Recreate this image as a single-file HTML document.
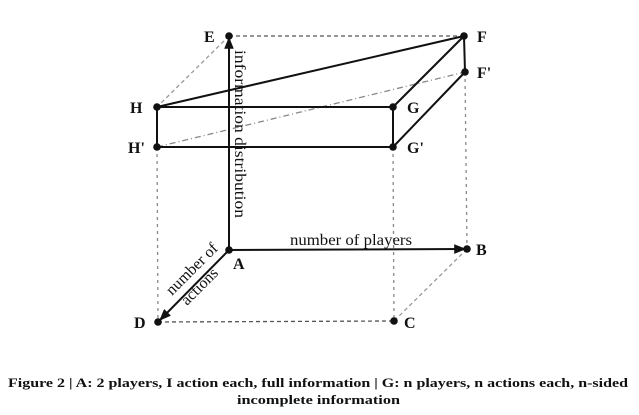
<!DOCTYPE html>
<html><head><style>
body{margin:0;background:#fff;width:639px;height:415px;overflow:hidden}
svg{position:absolute;left:0;top:0}
text{font-family:"Liberation Serif",serif;fill:#111}
</style></head><body>
<svg width="639" height="415" viewBox="0 0 639 415">
<defs><marker id="ar" viewBox="0 0 10 10" refX="9" refY="5" markerWidth="6" markerHeight="6" orient="auto"><path d="M0,1 L10,5 L0,9 z" fill="#111"/></marker></defs>
<g stroke="#555" stroke-width="1.3" fill="none">
<line x1="229" y1="36" x2="464" y2="36" stroke-dasharray="4,3"/>
<line x1="229" y1="36" x2="157" y2="107" stroke-dasharray="4,3" stroke="#999"/>
<line x1="157" y1="147" x2="158" y2="322" stroke-dasharray="3,4" stroke="#888"/>
<line x1="393" y1="147" x2="394" y2="321" stroke-dasharray="3,4" stroke="#888"/>
<line x1="465" y1="72" x2="467" y2="249" stroke-dasharray="3,4" stroke="#888"/>
<line x1="158" y1="322" x2="394" y2="321" stroke-dasharray="4,3"/>
<line x1="467" y1="249" x2="394" y2="321" stroke-dasharray="4,3" stroke="#999"/>
<line x1="157" y1="147" x2="465" y2="72" stroke-dasharray="6,3,1,3" stroke="#888"/>
</g>
<g stroke="#111" stroke-width="2" fill="none">
<line x1="157" y1="107" x2="464" y2="36"/>
<line x1="393" y1="107" x2="464" y2="36"/>
<line x1="393" y1="147" x2="465" y2="72"/>
<line x1="464" y1="36" x2="465" y2="72"/>
<line x1="157" y1="107" x2="393" y2="107"/>
<line x1="157" y1="147" x2="393" y2="147"/>
<line x1="157" y1="107" x2="157" y2="147"/>
<line x1="393" y1="107" x2="393" y2="147"/>
<line x1="229" y1="250" x2="229" y2="38" marker-end="url(#ar)"/>
<line x1="229" y1="250" x2="465" y2="249" marker-end="url(#ar)"/>
<line x1="229" y1="250" x2="160" y2="320" marker-end="url(#ar)"/>
</g>
<g fill="#111">
<circle cx="229" cy="36" r="3.8"/><circle cx="464" cy="36" r="3.8"/><circle cx="465" cy="72" r="3.8"/>
<circle cx="157" cy="107" r="3.8"/><circle cx="393" cy="107" r="3.8"/><circle cx="157" cy="147" r="3.8"/>
<circle cx="393" cy="147" r="3.8"/><circle cx="229" cy="250" r="3.8"/><circle cx="467" cy="249" r="3.8"/>
<circle cx="158" cy="322" r="3.8"/><circle cx="394" cy="321" r="3.8"/>
</g>
<g font-size="16" font-weight="bold">
<text x="204" y="42">E</text><text x="477" y="42">F</text><text x="477" y="78">F'</text>
<text x="130" y="113">H</text><text x="407" y="113">G</text><text x="128" y="153">H'</text>
<text x="407" y="153">G'</text><text x="233" y="269">A</text><text x="476" y="255">B</text>
<text x="134" y="328">D</text><text x="404" y="328">C</text>
</g>
<text font-size="16" transform="translate(235,50) rotate(90)" textLength="168" lengthAdjust="spacingAndGlyphs">information distribution</text>
<text font-size="16" x="290" y="245" textLength="122" lengthAdjust="spacingAndGlyphs">number of players</text>
<text font-size="16" transform="translate(172,296) rotate(-45)">number of</text>
<text font-size="16" transform="translate(187,306) rotate(-45)">actions</text>
<text font-size="13" font-weight="bold" x="8" y="387" textLength="620" lengthAdjust="spacingAndGlyphs">Figure 2 | A: 2 players, I action each, full information | G: n players, n actions each, n-sided</text>
<text font-size="13" font-weight="bold" x="237" y="404" textLength="163" lengthAdjust="spacingAndGlyphs">incomplete information</text>
</svg>
</body></html>
